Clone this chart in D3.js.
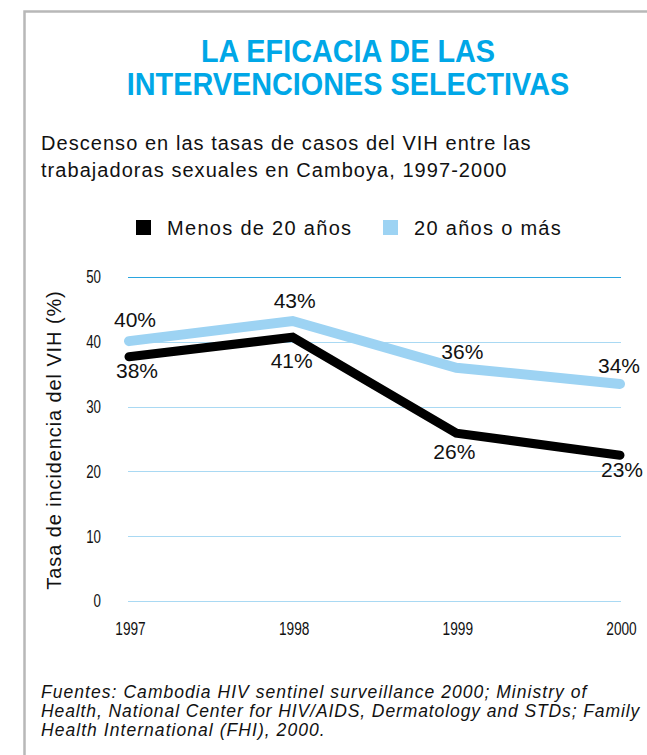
<!DOCTYPE html>
<html>
<head>
<meta charset="utf-8">
<script src="https://cdn.jsdelivr.net/npm/d3@7"></script>
<style>
  body { margin: 0; background: #fff; }
  svg { display: block; }
</style>
</head>
<body>
<div id="chart"></div>
<script>
// data
const years = [1997, 1998, 1999, 2000];
const under20 = [37.7, 40.7, 25.9, 22.5];
const over20 = [40.1, 43.2, 36.0, 33.5];
const under20Labels = ["38%", "41%", "26%", "23%"];
const over20Labels = ["40%", "43%", "36%", "34%"];
const yTicks = [0, 10, 20, 30, 40, 50];
const seriesNames = ["Menos de 20 años", "20 años o más"];

const width = 647;
const height = 755;
const marginTop = 277;
const marginBottom = 154;
const marginLeft = 129;
const marginRight = 27;

const sans = "'Liberation Sans', Arial, Helvetica, sans-serif";

const svg = d3.select("#chart")
  .append("svg")
    .attr("width", width)
    .attr("height", height)
    .attr("viewBox", [0, 0, width, height]);

// frame
svg.append("path")
    .attr("d", `M24.5,${height} V11.5 H${width}`)
    .attr("fill", "none")
    .attr("stroke", "#b8b8b8")
    .attr("stroke-width", 2.5);

// title (condensed by scaling)
svg.append("g")
    .attr("transform", "translate(348,0) scale(0.93,1)")
  .append("text")
    .attr("text-anchor", "middle")
    .attr("fill", "#00a7e7")
    .style("font", `bold 31px ${sans}`)
  .selectAll("tspan")
  .data(["LA EFICACIA DE LAS", "INTERVENCIONES SELECTIVAS"])
  .join("tspan")
    .attr("x", 0)
    .attr("y", (d, i) => 62 + i * 33)
    .text(d => d);

// subtitle
svg.append("text")
    .attr("fill", "#111")
    .style("font", `20px ${sans}`)
    .style("letter-spacing", "1.05px")
  .selectAll("tspan")
  .data(["Descenso en las tasas de casos del VIH entre las", "trabajadoras sexuales en Camboya, 1997-2000"])
  .join("tspan")
    .attr("x", 41)
    .attr("y", (d, i) => 150 + i * 27)
    .text(d => d);

// legend
const colors = ["#000000", "#9dd3f3"];
const legend = svg.append("g")
    .style("font", `20px ${sans}`)
    .style("letter-spacing", "1.3px");
const legendX = [136, 383];
seriesNames.forEach((name, i) => {
  legend.append("rect")
      .attr("x", legendX[i]).attr("y", 220)
      .attr("width", 15).attr("height", 15)
      .attr("fill", colors[i]);
  legend.append("text")
      .attr("x", legendX[i] + 31).attr("y", 235)
      .attr("fill", "#111")
      .text(name);
});

// scales
const x = d3.scalePoint()
    .domain(years)
    .range([marginLeft, width - marginRight]);

const y = d3.scaleLinear()
    .domain([0, 50])
    .range([height - marginBottom, marginTop]);

// grid lines
svg.append("g")
  .selectAll("line")
  .data(yTicks)
  .join("line")
    .attr("x1", marginLeft - 1)
    .attr("x2", width - marginRight + 1)
    .attr("y1", d => Math.round(y(d)) + 0.5)
    .attr("y2", d => Math.round(y(d)) + 0.5)
    .attr("stroke", d => d === 50 ? "#2aa5df" : "#a9d9f3")
    .attr("stroke-width", 1);

// y axis
svg.append("g")
    .attr("transform", "translate(101,0)")
    .call(d3.axisLeft(y).tickValues(yTicks).tickSize(0).tickPadding(0))
    .call(g => g.select(".domain").remove())
    .call(g => g.selectAll("text")
        .attr("fill", "#111")
        .attr("transform", "scale(0.72,1)")
        .style("font", `18.5px ${sans}`));

svg.append("text")
    .attr("transform", `translate(61,${(y(0) + y(50)) / 2 + 1}) rotate(-90)`)
    .attr("text-anchor", "middle")
    .attr("fill", "#111")
    .style("font", `20px ${sans}`)
    .style("letter-spacing", "0.9px")
    .text("Tasa de incidencia del VIH (%)");

// x axis
svg.append("g")
    .attr("transform", `translate(1,${height - marginBottom + 20})`)
    .call(d3.axisBottom(x).tickSize(0).tickPadding(0))
    .call(g => g.select(".domain").remove())
    .call(g => g.selectAll("text")
        .attr("fill", "#111")
        .attr("transform", "scale(0.72,1)")
        .style("font", `19px ${sans}`));

// lines
const line = d3.line()
    .x((d, i) => x(years[i]))
    .y(d => y(d));

svg.append("path")
    .datum(over20)
    .attr("fill", "none")
    .attr("stroke", colors[1])
    .attr("stroke-width", 10)
    .attr("stroke-linecap", "round")
    .attr("d", line);

svg.append("path")
    .datum(under20)
    .attr("fill", "none")
    .attr("stroke", colors[0])
    .attr("stroke-width", 9)
    .attr("stroke-linecap", "round")
    .attr("d", line);

// value labels, nudged like the original
const overNudge = [[6, -14], [2, -13], [6, -9], [-1, -11]];
const underNudge = [[8, 21], [-1, 31], [-2, 26], [2, 22]];

const labels = svg.append("g")
    .attr("text-anchor", "middle")
    .attr("fill", "#111")
    .style("font", `21px ${sans}`);

labels.selectAll(".over")
  .data(over20)
  .join("text")
    .attr("class", "over")
    .attr("x", (d, i) => x(years[i]) + overNudge[i][0])
    .attr("y", (d, i) => y(d) + overNudge[i][1])
    .text((d, i) => over20Labels[i]);

labels.selectAll(".under")
  .data(under20)
  .join("text")
    .attr("class", "under")
    .attr("x", (d, i) => x(years[i]) + underNudge[i][0])
    .attr("y", (d, i) => y(d) + underNudge[i][1])
    .text((d, i) => under20Labels[i]);

// source note (second line a touch tighter so it stays inside the page)
svg.append("text")
    .attr("fill", "#111")
    .style("font", `italic 17.5px ${sans}`)
  .selectAll("tspan")
  .data(["Fuentes: Cambodia HIV sentinel surveillance 2000; Ministry of",
         "Health, National Center for HIV/AIDS, Dermatology and STDs; Family",
         "Health International (FHI), 2000."])
  .join("tspan")
    .attr("x", 41)
    .attr("y", (d, i) => 698 + i * 19)
    .style("letter-spacing", (d, i) => i === 1 ? "0.9px" : "1.05px")
    .text(d => d);
</script>
</body>
</html>
